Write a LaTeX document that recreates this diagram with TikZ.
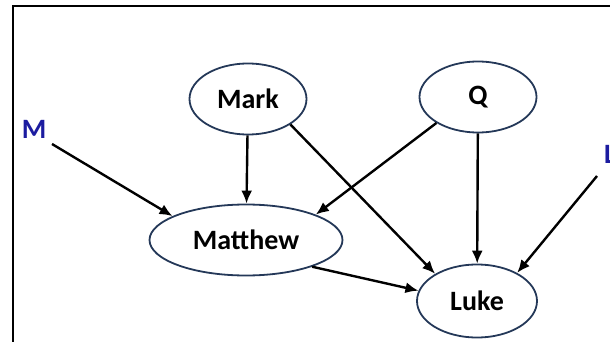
\documentclass[tikz,border=0pt]{standalone}
\usepackage{fontspec}
\setmainfont{Carlito}
\usetikzlibrary{shapes.geometric, arrows.meta}
\definecolor{ovalline}{RGB}{36,56,88}
\definecolor{extblue}{RGB}{28,28,160}
\begin{document}
\begin{tikzpicture}[>={Latex[length=13pt,width=11pt]}, x=1pt, y=-1pt,
    var/.style={draw=ovalline, line width=1.8pt, ellipse, inner sep=0pt, minimum height=71pt,
      font=\bfseries\fontsize{28}{32}\selectfont},
    ext/.style={text=extblue, font=\bfseries\fontsize{28}{32}\selectfont},
    link/.style={->, line width=2.4pt}]
      \clip (0,0) rectangle (610,342);
      % Draw the frame
      \draw[line width=1.6pt] (13,345) -- (13,6) -- (615,6);

      % Draw the four gospels
      \node[var, minimum width=117pt] at (248,99) (mark) {Mark};
      \node[var, minimum width=117pt] at (478,97) (q) {Q};
      \node[var, minimum width=193pt] at (246,240) (matthew) {Matthew};
      \node[var, minimum width=120pt, minimum height=73pt] at (477,301) (luke) {Luke};

      % Draw the special sources
      \node[ext] at (34,129) (m) {M};
      \node[ext] at (610,154) (l) {L};
      \coordinate (mstart) at (52,144);
      \coordinate (lstart) at (597,176);

      % Draw the arrows
      \draw[link] (mstart) -- (matthew.162);
      \draw[link] (mark) -- (matthew);
      \draw[link] (mark.-31) -- (luke.147);
      \draw[link] (q.-148) -- (matthew.20);
      \draw[link] (q) -- (luke);
      \draw[link] (lstart) -- (luke.35);
      \draw[link] (matthew.-22) -- (luke.170);
    \end{tikzpicture}
\end{document}
